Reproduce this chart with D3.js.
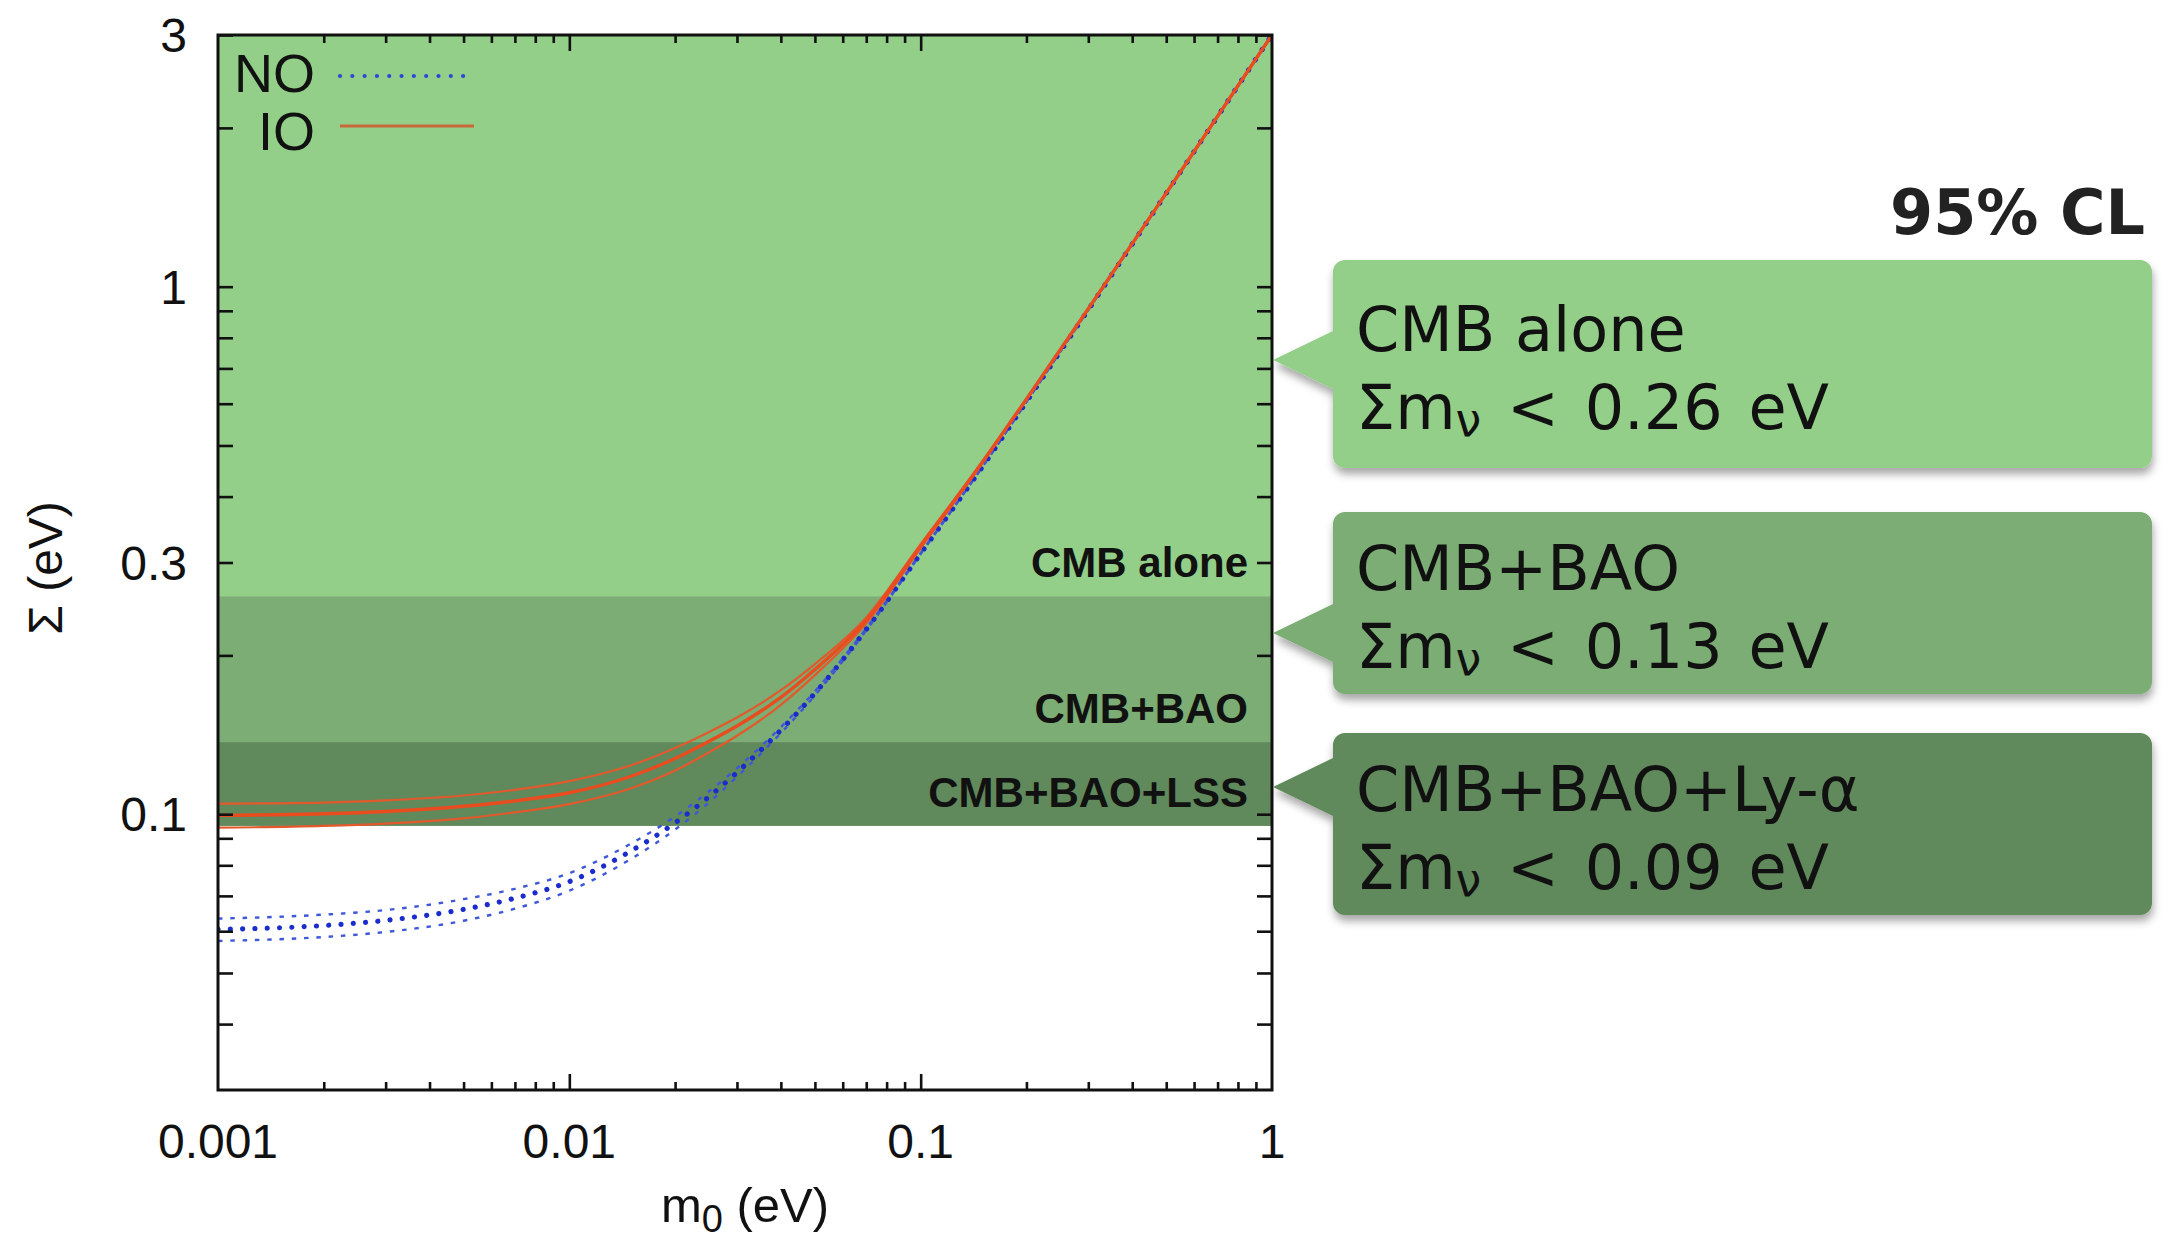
<!DOCTYPE html>
<html><head><meta charset="utf-8">
<script src="https://cdn.jsdelivr.net/npm/d3@7"></script>
<style>body{margin:0;background:#fff;} svg{display:block;}</style>
</head><body>
<svg id="chart" width="2172" height="1241"></svg>
<script>
// ---- data ----
const m0Values  = [0.001, 0.002, 0.003, 0.005, 0.007, 0.01, 0.015, 0.02, 0.025, 0.03, 0.04, 0.05, 0.07, 0.1, 0.15, 0.2, 0.3, 0.5, 0.7, 1];
const noCentral = [0.0605, 0.0615, 0.0629, 0.0660, 0.0693, 0.0745, 0.0852, 0.0963, 0.1080, 0.1200, 0.1444, 0.1695, 0.2240, 0.3120, 0.4560, 0.6050, 0.9040, 1.503, 2.102, 3.001];
const noUpper   = [0.0634, 0.0645, 0.0658, 0.0690, 0.0722, 0.0773, 0.0880, 0.0990, 0.1105, 0.1222, 0.1462, 0.1710, 0.2250, 0.3127, 0.4565, 0.6053, 0.9042, 1.503, 2.102, 3.001];
const noLower   = [0.0575, 0.0585, 0.0598, 0.0628, 0.0662, 0.0716, 0.0823, 0.0935, 0.1053, 0.1177, 0.1425, 0.1680, 0.2230, 0.3113, 0.4555, 0.6047, 0.9038, 1.503, 2.102, 3.001];
const ioCentral = [0.0995, 0.1002, 0.1012, 0.1035, 0.1060, 0.1098, 0.1180, 0.1275, 0.1375, 0.1470, 0.1665, 0.1880, 0.2330, 0.3220, 0.4650, 0.6120, 0.9080, 1.505, 2.104, 3.002];
const ioUpper   = [0.1047, 0.1052, 0.1062, 0.1085, 0.1112, 0.1155, 0.1238, 0.1335, 0.1432, 0.1525, 0.1718, 0.1925, 0.2360, 0.3250, 0.4670, 0.6130, 0.9085, 1.505, 2.104, 3.002];
const ioLower   = [0.0943, 0.0950, 0.0960, 0.0982, 0.1008, 0.1045, 0.1120, 0.1210, 0.1310, 0.1408, 0.1612, 0.1835, 0.2300, 0.3190, 0.4630, 0.6110, 0.9075, 1.505, 2.104, 3.002];

const bandNames  = ["CMB alone", "CMB+BAO", "CMB+BAO+LSS"];
const bandUpper  = [3, 0.259, 0.137];
const bandLower  = [0.259, 0.137, 0.095];
const bandColors = ["#93cf88", "#7bad74", "#60895c"];

const calloutTitles = ["CMB alone", "CMB+BAO", "CMB+BAO+Ly-α"];
const calloutLimits = ["0.26", "0.13", "0.09"];

const xTickLabels = [0.001, 0.01, 0.1, 1];
const yTickLabels = [0.1, 0.3, 1, 3];
const legendNames = ["NO", "IO"];

// ---- layout ----
const L = 218, R = 1272, T = 35, B = 1090;
const svg = d3.select("#chart");
const x = d3.scaleLog().domain([0.001, 1]).range([L, R]);
const y = d3.scaleLog().domain([0.03, 3]).range([B, T]);

const defs = svg.append("defs");
defs.append("clipPath").attr("id", "plotclip").append("rect")
  .attr("x", L).attr("y", T).attr("width", R - L).attr("height", B - T);
const f = defs.append("filter").attr("id", "shadow").attr("x", "-10%").attr("y", "-10%").attr("width", "130%").attr("height", "140%");
f.append("feDropShadow").attr("dx", 1).attr("dy", 6).attr("stdDeviation", 4)
  .attr("flood-color", "#000").attr("flood-opacity", 0.35);

// bands
const plot = svg.append("g").attr("clip-path", "url(#plotclip)");
plot.selectAll("rect.band").data(bandNames).join("rect").attr("class", "band")
  .attr("x", L).attr("width", R - L)
  .attr("y", (d, i) => y(bandUpper[i]))
  .attr("height", (d, i) => y(bandLower[i]) - y(bandUpper[i]))
  .attr("fill", (d, i) => bandColors[i]);

// band labels
svg.selectAll("text.bandlabel").data(bandNames).join("text").attr("class", "bandlabel")
  .attr("x", 1248).attr("y", (d, i) => y(bandLower[i]) - 19)
  .attr("text-anchor", "end")
  .style("font-family", "'Liberation Sans', Arial, sans-serif")
  .style("font-weight", "bold").style("font-size", "42px").attr("fill", "#111")
  .text(d => d);

// curves
const line = d3.line().x(d => x(d[0])).y(d => y(d[1])).curve(d3.curveMonotoneX);
const pts = arr => m0Values.map((m, i) => [m, arr[i]]);

// NO (dotted)
[noUpper, noLower].forEach(s => {
  plot.append("path").attr("d", line(pts(s))).attr("fill", "none")
    .attr("stroke", "#3f58d8").attr("stroke-width", 2.4)
    .attr("stroke-dasharray", "4.5 7.8");
});
plot.append("path").attr("d", line(pts(noCentral))).attr("fill", "none")
  .attr("stroke", "#1a2ccc").attr("stroke-width", 5.2)
  .attr("stroke-linecap", "round").attr("stroke-dasharray", "0.01 12.3");

// IO (solid)
[ioUpper, ioLower].forEach(s => {
  plot.append("path").attr("d", line(pts(s))).attr("fill", "none")
    .attr("stroke", "#e2592c").attr("stroke-width", 2.2);
});
plot.append("path").attr("d", line(pts(ioCentral))).attr("fill", "none")
  .attr("stroke", "#e84c1f").attr("stroke-width", 3.4);

// axes ticks
const yMinor = [];
[0.01, 0.1, 1].forEach(dec => { for (let k = 1; k <= 9; k++) { const v = +(k * dec).toPrecision(3); if (v > 0.03 && v <= 3) yMinor.push(v); } });
const xMinor = [], xMajor = [0.01, 0.1];
[0.001, 0.01, 0.1].forEach(dec => { for (let k = 2; k <= 9; k++) xMinor.push(+(k * dec).toPrecision(3)); });

function styleAxis(g) {
  g.select(".domain").remove();
  g.selectAll(".tick line").attr("stroke", "#111").attr("stroke-width", 2.6);
  g.selectAll(".tick text").remove();
}
svg.append("g").attr("transform", `translate(${L},0)`)
  .call(d3.axisRight(y).tickValues(yMinor).tickSize(15).tickFormat("")).call(styleAxis);
svg.append("g").attr("transform", `translate(${R},0)`)
  .call(d3.axisLeft(y).tickValues(yMinor).tickSize(15).tickFormat("")).call(styleAxis);
svg.append("g").attr("transform", `translate(0,${B})`)
  .call(d3.axisTop(x).tickValues(xMinor).tickSize(8).tickFormat("")).call(styleAxis);
svg.append("g").attr("transform", `translate(0,${B})`)
  .call(d3.axisTop(x).tickValues(xMajor).tickSize(16).tickFormat("")).call(styleAxis);
svg.append("g").attr("transform", `translate(0,${T})`)
  .call(d3.axisBottom(x).tickValues(xMinor).tickSize(8).tickFormat("")).call(styleAxis);
svg.append("g").attr("transform", `translate(0,${T})`)
  .call(d3.axisBottom(x).tickValues(xMajor).tickSize(16).tickFormat("")).call(styleAxis);

// frame
svg.append("rect").attr("x", L).attr("y", T).attr("width", R - L).attr("height", B - T)
  .attr("fill", "none").attr("stroke", "#111").attr("stroke-width", 3);

const axisFont = "'Liberation Sans', Arial, Helvetica, sans-serif";
// tick labels
svg.selectAll("text.ylab").data(yTickLabels).join("text").attr("class", "ylab")
  .attr("x", 187).attr("y", d => y(d) + 17).attr("text-anchor", "end")
  .style("font-family", axisFont).style("font-size", "48px").attr("fill", "#111")
  .text(d => String(d));
svg.selectAll("text.xlab").data(xTickLabels).join("text").attr("class", "xlab")
  .attr("x", d => x(d)).attr("y", 1158).attr("text-anchor", "middle")
  .style("font-family", axisFont).style("font-size", "48px").attr("fill", "#111")
  .text(d => String(d));

// axis titles
const xt = svg.append("text").attr("x", (L + R) / 2).attr("y", 1222).attr("text-anchor", "middle")
  .style("font-family", axisFont).style("font-size", "49px").attr("fill", "#111");
xt.append("tspan").text("m");
xt.append("tspan").attr("dy", 10).style("font-size", "38px").text("0");
xt.append("tspan").attr("dy", -10).text(" (eV)");
svg.append("text").attr("transform", "translate(62,568) rotate(-90)").attr("text-anchor", "middle")
  .style("font-family", axisFont).style("font-size", "48px").attr("fill", "#111")
  .text("Σ (eV)");

// legend
const legY = [92, 150], legLineY = [76, 126];
svg.selectAll("text.leg").data(legendNames).join("text").attr("class", "leg")
  .attr("x", 315).attr("y", (d, i) => legY[i]).attr("text-anchor", "end")
  .style("font-family", axisFont).style("font-size", "54px").attr("fill", "#111")
  .text(d => d);
svg.append("line").attr("x1", 340).attr("x2", 472).attr("y1", legLineY[0]).attr("y2", legLineY[0])
  .attr("stroke", "#2a48d8").attr("stroke-width", 4.2).attr("stroke-linecap", "round")
  .attr("stroke-dasharray", "0.01 12.3");
svg.append("line").attr("x1", 340).attr("x2", 474).attr("y1", legLineY[1]).attr("y2", legLineY[1])
  .attr("stroke", "#c9693a").attr("stroke-width", 3);

// 95% CL
svg.append("text").attr("x", 2145).attr("y", 234).attr("text-anchor", "end")
  .style("font-family", "'DejaVu Sans', Verdana, sans-serif").style("font-weight", "bold")
  .style("font-size", "62px").attr("fill", "#222").text("95% CL");

// callouts
const boxTop = [260, 512, 733], boxBottom = [468, 694, 915], tipY = [360, 633, 787];
const bx0 = 1333, bx1 = 2152, rad = 12;
calloutTitles.forEach((t, i) => {
  const g = svg.append("g");
  const y0 = boxTop[i], y1 = boxBottom[i], ty = tipY[i];
  const p = d3.path();
  p.moveTo(bx0 + rad, y0);
  p.lineTo(bx1 - rad, y0); p.arcTo(bx1, y0, bx1, y0 + rad, rad);
  p.lineTo(bx1, y1 - rad); p.arcTo(bx1, y1, bx1 - rad, y1, rad);
  p.lineTo(bx0 + rad, y1); p.arcTo(bx0, y1, bx0, y1 - rad, rad);
  p.lineTo(bx0, ty + 29); p.lineTo(R + 1, ty); p.lineTo(bx0, ty - 29);
  p.lineTo(bx0, y0 + rad); p.arcTo(bx0, y0, bx0 + rad, y0, rad);
  p.closePath();
  g.append("path").attr("d", p.toString()).attr("fill", bandColors[i]).attr("filter", "url(#shadow)");
  const cy = (y0 + y1) / 2;
  const font = "'DejaVu Sans', Verdana, sans-serif";
  g.append("text").attr("x", 1356).attr("y", cy - 13)
    .style("font-family", font).style("font-size", "62px").attr("fill", "#111").text(t);
  const t2 = g.append("text").attr("x", 1356).attr("y", cy + 65)
    .style("font-family", font).style("font-size", "62px").attr("fill", "#111")
    .attr("word-spacing", "6px");
  t2.append("tspan").text("Σm");
  t2.append("tspan").attr("dy", 7).style("font-size", "46px").text("ν");
  t2.append("tspan").attr("dy", -7).text(" < " + calloutLimits[i] + " eV");
});
</script>
</body></html>
